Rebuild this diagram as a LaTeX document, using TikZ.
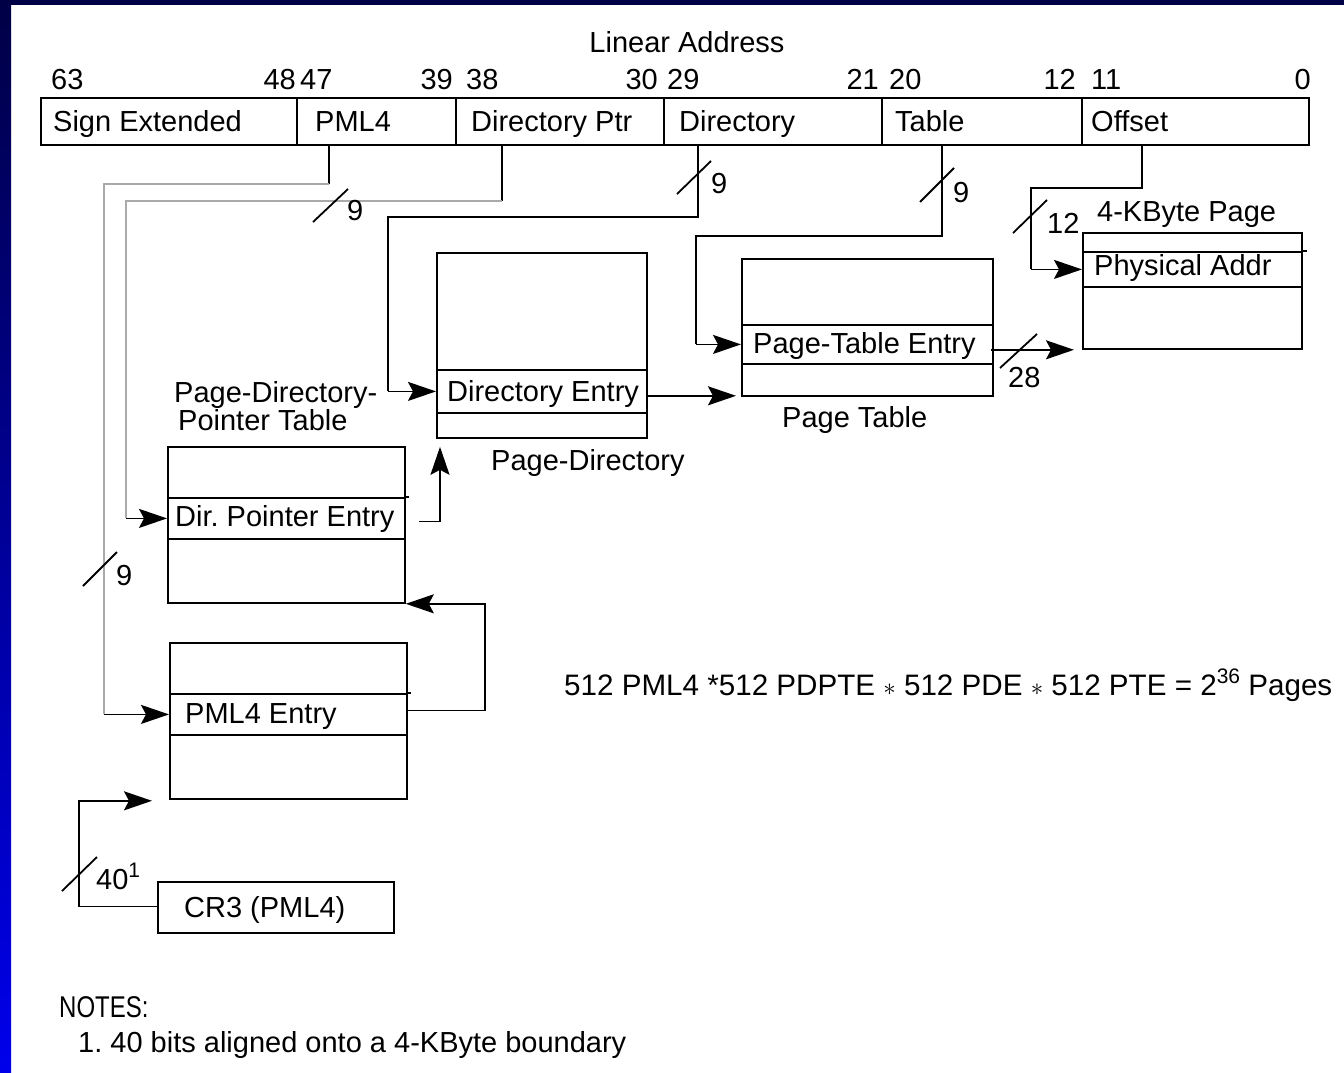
\documentclass[tikz,border=0pt]{standalone}
\usepackage{fontspec}
\setmainfont{Liberation Sans}
\usetikzlibrary{arrows.meta,calc}
\definecolor{navy}{RGB}{0,0,70}
\definecolor{brightblue}{RGB}{0,0,235}
\definecolor{lgrey}{RGB}{170,170,170}
\begin{document}
\begin{tikzpicture}[x=1pt,y=-1pt,
  font=\fontsize{29}{34}\selectfont,
  lw/.style={line width=1.8pt},
  field/.style={draw,lw,inner sep=0pt,minimum height=47pt,anchor=north west},
  tbl/.style={draw,lw,inner sep=0pt,anchor=north west},
  txt/.style={inner sep=0pt,anchor=base west},
  txte/.style={inner sep=0pt,anchor=base east},
  conn/.style={lw,black},
  gconn/.style={lw,lgrey},
  arr/.style={lw,black,-{Stealth[length=28pt,width=19pt,inset=5pt]}},
  slashmark/.style={lw,black}]
\useasboundingbox (0,0) rectangle (1344,1072);
\fill[white] (0,0) rectangle (1344,1072);
\shade[top color=navy,bottom color=brightblue] (0,0) rectangle (11,1072);
\fill[navy] (0,0) rectangle (1344,5);

% Linear address
\node[inner sep=0pt,anchor=base] (la) at (687,52) {Linear Address};
\node[field,minimum width=256pt] (sgn) at (40,97) {};
\node[field,minimum width=159pt] (pmlf) at (296,97) {};
\node[field,minimum width=208pt] (dpf) at (455,97) {};
\node[field,minimum width=218pt] (dirf) at (663,97) {};
\node[field,minimum width=200pt] (tblf) at (881,97) {};
\node[field,minimum width=227pt] (offf) at (1081,97) {};
\node[txt] (tsgn) at (53,131) {Sign Extended};
\node[txt] (tpml) at (315,131) {PML4};
\node[txt] (tdp) at (471,131) {Directory Ptr};
\node[txt] (tdir) at (679,131) {Directory};
\node[txt] (ttbl) at (895,131) {Table};
\node[txt] (toff) at (1091,131) {Offset};
% bit numbers
\node[txt] (b63) at (51,89) {63};
\node[txte] (b48) at (296,89) {48};
\node[txt] (b47) at (300,89) {47};
\node[txte] (b39) at (453,89) {39};
\node[txt] (b38) at (466,89) {38};
\node[txte] (b30) at (658,89) {30};
\node[txt] (b29) at (667,89) {29};
\node[txte] (b21) at (879,89) {21};
\node[txt] (b20) at (889,89) {20};
\node[txte] (b12) at (1076,89) {12};
\node[txt] (b11) at (1091,89) {11};
\node[txte] (b0) at (1311,89) {0};

% Tables
\node[tbl,minimum width=219pt,minimum height=116pt] (pg) at (1082,232) {};
\node[tbl,minimum width=219pt,minimum height=35pt] (pga) at (1082,251) {};
\draw[lw] (pga.north east) -- ++(4,0);
\node[txt] (tpga) at (1094,275) {Physical Addr};
\node[txt] (tpg) at (1097,221) {4-KByte Page};

\node[tbl,minimum width=251pt,minimum height=137pt] (pt) at (741,258) {};
\node[tbl,minimum width=251pt,minimum height=39pt] (pte) at (741,324) {};
\node[txt] (tpte) at (753,353) {Page-Table Entry};
\node[txt] (tpt) at (782,427) {Page Table};

\node[tbl,minimum width=210pt,minimum height=185pt] (pd) at (436,252) {};
\node[tbl,minimum width=210pt,minimum height=43pt] (pde) at (436,369) {};
\node[txt] (tpde) at (447,401) {Directory Entry};
\node[txt] (tpd) at (491,470) {Page-Directory};

\node[tbl,minimum width=237pt,minimum height=156pt] (pdpt) at (167,446) {};
\node[tbl,minimum width=237pt,minimum height=41pt] (pdpte) at (167,497) {};
\draw[lw] (pdpte.north east) -- ++(3,0);
\node[txt] (tpdpte) at (175,526) {Dir.\ Pointer Entry};
\node[txt] (tpdpt1) at (174,402) {Page-Directory-};
\node[txt] (tpdpt2) at (178,430) {Pointer Table};

\node[tbl,minimum width=237pt,minimum height=156pt] (pml4) at (169,642) {};
\node[tbl,minimum width=237pt,minimum height=41pt] (pml4e) at (169,693) {};
\draw[lw] (pml4e.north east) -- ++(3,0);
\node[txt] (tpml4e) at (185,723) {PML4 Entry};

\node[tbl,minimum width=236pt,minimum height=51pt] (cr3) at (157,881) {};
\node[txt] (tcr3) at (184,917) {CR3 (PML4)};

% PML4 index
\draw[conn] ([xshift=33pt]pmlf.south west) -- ++(0,38) coordinate (a2);
\draw[gconn] (a2) -- ++(-225,0) coordinate (a3) -- (a3 |- pml4e.west);
\draw[arr] (a3 |- pml4e.west) -- (pml4e.west);
\draw[slashmark] (83,586) -- (117,552);
\node[txt] (n1) at (116,585) {9};

% Directory pointer index
\draw[conn] ([xshift=47pt]dpf.south west) -- ++(0,55) coordinate (b2);
\draw[gconn] (b2) -- ++(-376,0) coordinate (b3) -- (b3 |- pdpte.west);
\draw[arr] (b3 |- pdpte.west) -- (pdpte.west);
\draw[slashmark] (313,222) -- (348,189);
\node[txt] (n2) at (347,220) {9};

% Directory index
\draw[conn] ([xshift=35pt]dirf.south west) -- ++(0,71) -- ++(-310,0) coordinate (c3) -- (c3 |- pde.west);
\draw[arr] (c3 |- pde.west) -- (pde.west);
\draw[slashmark] (677,194) -- (711,161);
\node[txt] (n3) at (711,193) {9};

% Table index
\draw[conn] ([xshift=61pt]tblf.south west) -- ++(0,90) -- ++(-246,0) coordinate (d3) -- (d3 |- pte.west);
\draw[arr] (d3 |- pte.west) -- (pte.west);
\draw[slashmark] (920,202) -- (954,168);
\node[txt] (n4) at (953,202) {9};

% Offset
\draw[conn] ([xshift=61pt]offf.south west) -- ++(0,42) -- ++(-111,0) coordinate (e3) -- (e3 |- pga.west);
\draw[arr] (e3 |- pga.west) -- (pga.west);
\draw[slashmark] (1013,233) -- (1047,200);
\node[txt] (n5) at (1047,233) {12};

% PDE -> page table
\coordinate (tg1) at ([xshift=-5pt,yshift=1pt]pt.south west);
\draw[arr] (pde.east |- tg1) -- (tg1);

% PTE -> page
\coordinate (tg2) at ([xshift=-8pt]pg.south west);
\draw[arr] ([xshift=-3pt]pte.east |- tg2) -- (tg2);
\draw[slashmark] (1000,368) -- (1037,334);
\node[txt] (n6) at (1008,387) {28};

% PDPTE -> page directory
\coordinate (tg3) at ([xshift=4pt,yshift=-8pt]pd.south west);
\draw[arr] ([xshift=13pt,yshift=-3pt]pdpte.east) -| (tg3);

% PML4E -> PDPT
\draw[arr] ([yshift=4pt]pml4e.east) -- ++(77,0) |- (pdpt.south east);

% CR3 -> PML4
\coordinate (tg4) at ([xshift=-17pt,yshift=-1pt]pml4.south west);
\draw[arr] ([yshift=1pt]cr3.west) -- ++(-78,0) |- (tg4);
\draw[slashmark] (62,891) -- (97,857);
\node[txt] (n7) at (96,889) {40\raisebox{12pt}{\fontsize{21}{22}\selectfont 1}};

% Formula
\node[txt] (formula) at (564,695) {\fontsize{29.6}{34}\selectfont 512 PML4 *512 PDPTE $\ast$ 512 PDE $\ast$ 512 PTE = 2\raisebox{12pt}{\fontsize{21}{22}\selectfont 36} Pages};

% Notes
\node[txt] (notes) at (59,1017) {\scalebox{0.8}[1]{\fontsize{30}{34}\selectfont NOTES:}};
\node[txt] (note1) at (78,1052) {1.\ 40 bits aligned onto a 4-KByte boundary};
\end{tikzpicture}
\end{document}
